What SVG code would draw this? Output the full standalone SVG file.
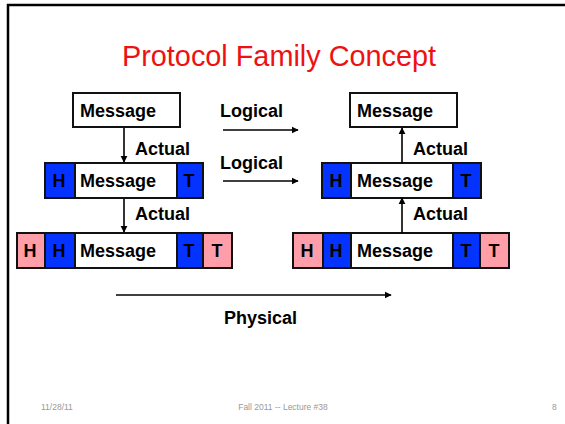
<svg xmlns="http://www.w3.org/2000/svg" width="565" height="424" viewBox="0 0 565 424">
<defs>
<marker id="ah" viewBox="0 0 10 10" refX="9" refY="5" markerWidth="4.5" markerHeight="4.5" orient="auto" markerUnits="strokeWidth">
<path d="M0,0 L10,5 L0,10 z" fill="#000"/>
</marker>
<style>
.box{stroke:#111;stroke-width:2}
.w{fill:#fff}
.b{fill:#0433ff}
.p{fill:#ff9ea8}
.t{font-family:"Liberation Sans",Arial,sans-serif;font-weight:bold;font-size:18px;fill:#000}
.c{text-anchor:middle}
.f{font-family:"Liberation Sans",Arial,sans-serif;font-size:8.5px;fill:#999}
.ar{stroke:#000;stroke-width:1.6;fill:none;marker-end:url(#ah)}
</style>
</defs>
<rect x="0" y="0" width="565" height="424" fill="#fff"/>
<rect x="8" y="5" width="600" height="500" fill="none" stroke="#000" stroke-width="2.5"/>
<text x="279" y="66" font-family="Liberation Sans,Arial,sans-serif" font-size="30" fill="#ee1111" text-anchor="middle" textLength="314" lengthAdjust="spacingAndGlyphs">Protocol Family Concept</text>

<g id="left-top">
<rect class="box w" x="73" y="93" width="107" height="34"/>
<text class="t" x="80" y="117">Message</text>
</g>
<g id="left-mid">
<rect class="box b" x="45" y="163" width="30" height="35"/>
<rect class="box w" x="75" y="163" width="102" height="35"/>
<rect class="box b" x="177" y="163" width="26" height="35"/>
<text class="t c" x="59" y="187">H</text>
<text class="t" x="80" y="187">Message</text>
<text class="t c" x="189" y="187">T</text>
</g>
<g id="left-bot">
<rect class="box p" x="17" y="233" width="28" height="35"/>
<rect class="box b" x="45" y="233" width="30" height="35"/>
<rect class="box w" x="75" y="233" width="102" height="35"/>
<rect class="box b" x="177" y="233" width="26" height="35"/>
<rect class="box p" x="203" y="233" width="29" height="35"/>
<text class="t c" x="30" y="257">H</text>
<text class="t c" x="59" y="257">H</text>
<text class="t" x="80" y="257">Message</text>
<text class="t c" x="189" y="257">T</text>
<text class="t c" x="217" y="257">T</text>
</g>

<g id="right-top">
<rect class="box w" x="350" y="93" width="107" height="34"/>
<text class="t" x="357" y="117">Message</text>
</g>
<g id="right-mid">
<rect class="box b" x="322" y="163" width="29" height="35"/>
<rect class="box w" x="351" y="163" width="102" height="35"/>
<rect class="box b" x="453" y="163" width="28" height="35"/>
<text class="t c" x="336" y="187">H</text>
<text class="t" x="357" y="187">Message</text>
<text class="t c" x="466" y="187">T</text>
</g>
<g id="right-bot">
<rect class="box p" x="293" y="233" width="30" height="35"/>
<rect class="box b" x="323" y="233" width="28" height="35"/>
<rect class="box w" x="351" y="233" width="102" height="35"/>
<rect class="box b" x="453" y="233" width="27" height="35"/>
<rect class="box p" x="480" y="233" width="29" height="35"/>
<text class="t c" x="307" y="257">H</text>
<text class="t c" x="336" y="257">H</text>
<text class="t" x="357" y="257">Message</text>
<text class="t c" x="466" y="257">T</text>
<text class="t c" x="494" y="257">T</text>
</g>

<g id="connectors">
<line class="ar" x1="124" y1="128" x2="124" y2="162"/>
<line class="ar" x1="124" y1="199" x2="124" y2="232"/>
<line class="ar" x1="402" y1="163" x2="402" y2="128"/>
<line class="ar" x1="402" y1="233" x2="402" y2="198"/>
<line class="ar" x1="223" y1="130" x2="298" y2="130"/>
<line class="ar" x1="223" y1="181" x2="298" y2="181"/>
<line class="ar" x1="116" y1="295" x2="391" y2="295"/>
<text class="t" x="135" y="155">Actual</text>
<text class="t" x="135" y="220">Actual</text>
<text class="t" x="413" y="155">Actual</text>
<text class="t" x="413" y="220">Actual</text>
<text class="t" x="220" y="117">Logical</text>
<text class="t" x="220" y="169">Logical</text>
<text class="t" x="224" y="324">Physical</text>
</g>

<text class="f" x="41" y="410">11/28/11</text>
<text class="f" x="283" y="410" text-anchor="middle">Fall 2011 -- Lecture #38</text>
<text class="f" x="552" y="410">8</text>
</svg>
